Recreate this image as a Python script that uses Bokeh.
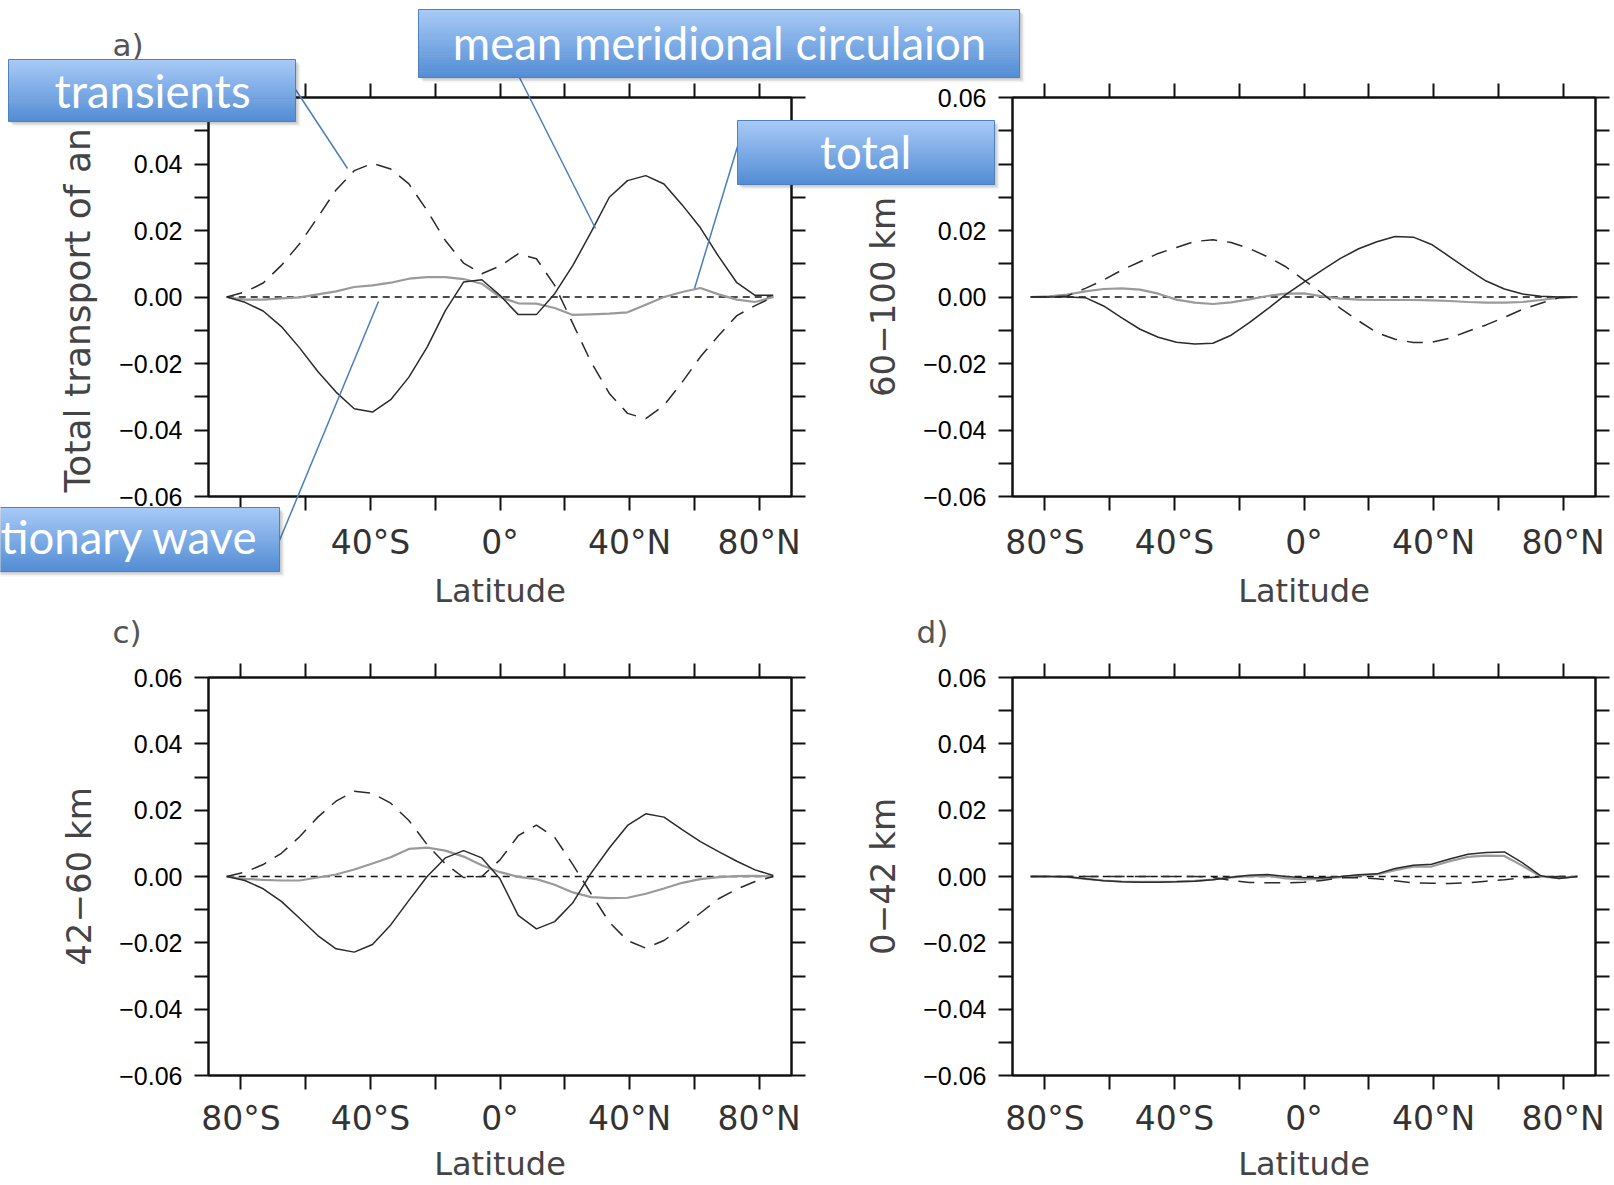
import math
from bokeh.plotting import figure
from bokeh.models import Range1d, LinearAxis, FixedTicker, CustomJSTickFormatter
from bokeh.core.properties import value
from bokeh.embed import file_html
from bokeh.resources import INLINE

# ---------------- data ----------------
LAT = [-84.375, -78.75, -73.125, -67.5, -61.875, -56.25, -50.625, -45.0, -39.375, -33.75,
       -28.125, -22.5, -16.875, -11.25, -5.625, 0.0, 5.625, 11.25, 16.875, 22.5,
       28.125, 33.75, 39.375, 45.0, 50.625, 56.25, 61.875, 67.5, 73.125, 78.75, 84.375]

# a) total column
A_TRANS = [0.0, 0.0015, 0.0042, 0.0095, 0.016, 0.024, 0.0322, 0.038, 0.0402, 0.0385,
           0.034, 0.026, 0.017, 0.0102, 0.007, 0.0093, 0.013, 0.0115, 0.0035, -0.008,
           -0.0196, -0.029, -0.035, -0.0366, -0.0326, -0.0256, -0.018, -0.0116, -0.0056, -0.0026, 0.0]
A_MMC = [0.0, -0.0016, -0.0042, -0.0089, -0.0153, -0.0224, -0.0286, -0.0336, -0.0346, -0.0309,
         -0.0241, -0.0151, -0.0041, 0.0045, 0.0052, 0.0005, -0.0053, -0.0053, 0.001, 0.0095,
         0.0195, 0.030, 0.035, 0.0365, 0.034, 0.0277, 0.0208, 0.0122, 0.0043, 0.0005, 0.0005]
A_TOTAL = [0.0, -0.0008, -0.0008, -0.0004, -0.0001, 0.0008, 0.0017, 0.003, 0.0035, 0.0043,
           0.0055, 0.006, 0.006, 0.0054, 0.004, 0.0, -0.0019, -0.002, -0.0033, -0.0054,
           -0.0052, -0.005, -0.0046, -0.0023, 0.0, 0.0015, 0.0027, 0.0008, -0.0008, -0.0015, 0.0]
A_STAT = [0.0, 0.0, 0.0, 0.0, 0.0, 0.0, 0.0, 0.0, 0.0, 0.0, 0.0, 0.0, 0.0, 0.0, 0.0, 0.0,
          0.0, 0.0, 0.0, 0.0, 0.0, 0.0, 0.0, 0.0, 0.0, 0.0, 0.0, 0.0, 0.0, 0.0, 0.0]

# b) 60-100 km
B_TRANS = [0.0, 0.0, 0.0003, 0.0026, 0.0051, 0.0081, 0.0106, 0.0131, 0.0149, 0.0167,
           0.0172, 0.0164, 0.0146, 0.0121, 0.0091, 0.0051, 0.0011, -0.0034, -0.0072, -0.0107,
           -0.0127, -0.0137, -0.0136, -0.0124, -0.0103, -0.0084, -0.0061, -0.0037, -0.0019, -0.0002, 0.0]
B_MMC = [0.0, 0.0, 0.0, -0.0002, -0.0027, -0.0063, -0.0097, -0.0121, -0.0136, -0.0141,
         -0.0139, -0.0115, -0.0077, -0.0036, 0.0007, 0.0045, 0.0081, 0.0116, 0.0145, 0.0166,
         0.0182, 0.018, 0.0158, 0.0121, 0.0083, 0.0048, 0.0024, 0.0009, 0.0002, 0.0, 0.0]
B_TOTAL = [0.0, 0.0002, 0.0007, 0.0017, 0.0024, 0.0026, 0.0022, 0.001, -0.0008, -0.0017,
           -0.0021, -0.0016, -0.0007, 0.0003, 0.001, 0.0011, 0.0002, -0.0005, -0.0008, -0.0009,
           -0.0009, -0.0009, -0.001, -0.0012, -0.0015, -0.0017, -0.0017, -0.0015, -0.0009, -0.0002, 0.0]
B_STAT = [0.0, 0.0, 0.0, 0.0, 0.0, 0.0, 0.0, 0.0, 0.0, 0.0, 0.0, 0.0, 0.0, 0.0, 0.0, 0.0,
          0.0, 0.0, 0.0, 0.0, 0.0, 0.0, 0.0, 0.0, 0.0, 0.0, 0.0, 0.0, 0.0, 0.0, 0.0]

# c) 42-60 km
C_TRANS = [0.0, 0.0013, 0.0036, 0.007, 0.012, 0.0179, 0.0227, 0.0257, 0.0251, 0.0221,
           0.0169, 0.0096, 0.0038, -0.0003, 0.0, 0.005, 0.0123, 0.0155, 0.0118, 0.0036,
           -0.0052, -0.0138, -0.0193, -0.0216, -0.0193, -0.0153, -0.011, -0.0067, -0.0038, -0.0015, 0.0]
C_MMC = [0.0, -0.0012, -0.0037, -0.0075, -0.0126, -0.0178, -0.0218, -0.0228, -0.0205, -0.0146,
         -0.0072, 0.0, 0.0056, 0.0078, 0.0056, -0.0007, -0.0117, -0.0158, -0.0136, -0.0079,
         0.001, 0.0086, 0.0154, 0.0189, 0.0179, 0.0141, 0.0105, 0.0075, 0.0046, 0.002, 0.0003]
C_TOTAL = [0.0, -0.0007, -0.001, -0.0012, -0.0012, -0.0003, 0.0006, 0.0021, 0.0039, 0.0058,
           0.0083, 0.0087, 0.0078, 0.006, 0.0034, 0.0013, -0.0001, -0.0008, -0.0025, -0.0048,
           -0.0062, -0.0065, -0.0064, -0.0052, -0.0036, -0.0019, -0.0008, -0.0002, 0.0001, 0.0002, 0.0]
C_STAT = [0.0, 0.0, 0.0, 0.0, 0.0, 0.0, 0.0, 0.0, 0.0, 0.0, 0.0, 0.0, 0.0, 0.0, 0.0, 0.0,
          0.0, 0.0, 0.0, 0.0, 0.0, 0.0, 0.0, 0.0, 0.0, 0.0, 0.0, 0.0, 0.0, 0.0, 0.0]

# d) 0-42 km
D_TRANS = [0.0, 0.0, 0.0, 0.0, 0.0, 0.0, 0.0, 0.0, 0.0, 0.0,
           -0.0002, -0.0012, -0.0018, -0.0019, -0.0019, -0.0017, -0.0012, -0.0004, -0.0004, -0.0007,
           -0.0013, -0.0019, -0.002, -0.0021, -0.0019, -0.0014, -0.001, -0.0004, -0.0001, 0.0, 0.0]
D_MMC = [0.0, 0.0, -0.0001, -0.0007, -0.0013, -0.0016, -0.0017, -0.0017, -0.0016, -0.0014,
         -0.001, -0.0002, 0.0004, 0.0006, 0.0, -0.0004, -0.0004, 0.0, 0.0005, 0.0008,
         0.0024, 0.0034, 0.0037, 0.0053, 0.0067, 0.0072, 0.0074, 0.0041, 0.0002, -0.0006, 0.0]
D_TOTAL = [0.0, 0.0, -0.0001, -0.0007, -0.0012, -0.0015, -0.0016, -0.0016, -0.0015, -0.0013,
           -0.0009, -0.0003, 0.0001, 0.0002, -0.0006, -0.0009, -0.0007, -0.0002, 0.0003, 0.0006,
           0.0019, 0.003, 0.003, 0.0046, 0.0059, 0.0063, 0.0062, 0.0032, 0.0, -0.0005, 0.0]
D_STAT = [0.0, 0.0, 0.0, 0.0, 0.0, 0.0, 0.0, 0.0, 0.0, 0.0, 0.0, 0.0, 0.0, 0.0, 0.0, 0.0,
          0.0, 0.0, 0.0, 0.0, 0.0, 0.0, 0.0, 0.0, 0.0, 0.0, 0.0, 0.0, 0.0, 0.0, 0.0]

X_MAJOR = [-80, -40, 0, 40, 80]
X_MINOR = [-60, -20, 20, 60]
Y_MAJOR = [-0.06, -0.04, -0.02, 0.0, 0.02, 0.04, 0.06]
Y_MINOR = [-0.05, -0.03, -0.01, 0.01, 0.03, 0.05]

PANEL_LETTERS = ["a)", "c)", "d)"]
Y_TITLES = ["Total transport of an", "60\u2212100 km", "42\u221260 km", "0\u221242 km"]
X_TITLE = "Latitude"
CALLOUTS = ["transients", "mean meridional circulaion", "total", "tionary wave"]

# ---------------- layout / style ----------------
INK = "#111111"
TICK_FONT_X = "DejaVu Sans"
TICK_FONT_Y = "Liberation Sans"

PANELS = [
    dict(trans=A_TRANS, mmc=A_MMC, total=A_TOTAL, stat=A_STAT, ytitle=None,
         left=0, top=0, w=850, h=620, bl=208, br=59, bt=97, bb=124, xs=12, xls=7),
    dict(trans=B_TRANS, mmc=B_MMC, total=B_TOTAL, stat=B_STAT, ytitle=Y_TITLES[1],
         left=850, top=0, w=764, h=620, bl=162, br=19, bt=97, bb=124, xs=12, xls=7),
    dict(trans=C_TRANS, mmc=C_MMC, total=C_TOTAL, stat=C_STAT, ytitle=Y_TITLES[2],
         left=0, top=620, w=850, h=565, bl=208, br=59, bt=57, bb=110, xs=9, xls=4),
    dict(trans=D_TRANS, mmc=D_MMC, total=D_TOTAL, stat=D_STAT, ytitle=Y_TITLES[3],
         left=850, top=620, w=764, h=565, bl=162, br=19, bt=57, bb=110, xs=9, xls=4),
]

X_FMT = ("if (Math.abs(tick) < 1e-9) { return '0\u00b0'; } "
         "return Math.abs(tick).toFixed(0) + '\u00b0' + (tick < 0 ? 'S' : 'N');")
Y_FMT = "return (tick < -1e-9 ? '\u2212' : '') + Math.abs(tick).toFixed(2);"
BLANK_FMT = "return '';"


def style_ticks(ax):
    ax.major_tick_in = 0
    ax.major_tick_out = 14
    ax.minor_tick_in = 0
    ax.minor_tick_out = 14
    ax.major_tick_line_width = 2
    ax.minor_tick_line_width = 2
    ax.major_tick_line_color = INK
    ax.minor_tick_line_color = INK
    ax.axis_line_width = 2
    ax.axis_line_color = INK


def build_panel(cfg):
    p = figure(width=cfg["w"], height=cfg["h"],
               x_range=Range1d(-90, 90), y_range=Range1d(-0.06, 0.06),
               output_backend="svg", toolbar_location=None,
               min_border_left=cfg["bl"], min_border_right=cfg["br"],
               min_border_top=cfg["bt"], min_border_bottom=cfg["bb"])
    p.grid.visible = False
    p.outline_line_color = INK
    p.outline_line_width = 2
    p.background_fill_color = "white"
    p.border_fill_color = "white"

    xa = p.xaxis[0]
    xa.ticker = FixedTicker(ticks=X_MAJOR, minor_ticks=X_MINOR)
    xa.formatter = CustomJSTickFormatter(code=X_FMT)
    style_ticks(xa)
    xa.major_label_text_font = TICK_FONT_X
    xa.major_label_text_font_size = "33px"
    xa.major_label_text_color = "#333333"
    xa.major_label_standoff = cfg["xs"]
    xa.axis_label = X_TITLE
    xa.axis_label_text_font = "DejaVu Sans"
    xa.axis_label_text_font_size = "32px"
    xa.axis_label_text_font_style = "normal"
    xa.axis_label_text_color = "#444444"
    xa.axis_label_standoff = cfg["xls"]

    ya = p.yaxis[0]
    ya.ticker = FixedTicker(ticks=Y_MAJOR, minor_ticks=Y_MINOR)
    ya.formatter = CustomJSTickFormatter(code=Y_FMT)
    style_ticks(ya)
    ya.major_label_text_font = TICK_FONT_Y
    ya.major_label_text_font_size = "25px"
    ya.major_label_text_color = "#000000"
    ya.major_label_standoff = 12
    if cfg["ytitle"]:
        ya.axis_label = cfg["ytitle"]
        ya.axis_label_text_font = "DejaVu Sans"
        ya.axis_label_text_font_size = "34px"
        ya.axis_label_text_font_style = "normal"
        ya.axis_label_text_color = "#444444"
        ya.axis_label_standoff = 17

    top_ax = LinearAxis(ticker=FixedTicker(ticks=X_MAJOR, minor_ticks=X_MINOR),
                        formatter=CustomJSTickFormatter(code=BLANK_FMT),
                        major_label_text_font_size="1px", major_label_standoff=0)
    style_ticks(top_ax)
    p.add_layout(top_ax, "above")
    right_ax = LinearAxis(ticker=FixedTicker(ticks=Y_MAJOR, minor_ticks=Y_MINOR),
                          formatter=CustomJSTickFormatter(code=BLANK_FMT),
                          major_label_text_font_size="1px", major_label_standoff=0)
    style_ticks(right_ax)
    p.add_layout(right_ax, "right")

    p.line(LAT, cfg["stat"], line_color=INK, line_width=1.3, line_dash="7 5")
    p.line(LAT, cfg["total"], line_color="#9a9a9a", line_width=2.2)
    p.line(LAT, cfg["trans"], line_color="#2a2a2a", line_width=1.5, line_dash="16 10")
    p.line(LAT, cfg["mmc"], line_color="#2a2a2a", line_width=1.5)

    p.styles = {"position": "absolute", "left": f"{cfg['left']}px", "top": f"{cfg['top']}px"}
    return p


panels = [build_panel(c) for c in PANELS]

# ---------------- overlay: panel letters, callouts ----------------
W, H = 1614, 1185
ov = figure(width=W, height=H, x_range=Range1d(0, W), y_range=Range1d(H, 0),
            output_backend="svg", toolbar_location=None, min_border=0,
            x_axis_location=None, y_axis_location=None)
ov.grid.visible = False
ov.outline_line_color = None
ov.background_fill_alpha = 0
ov.border_fill_alpha = 0
ov.styles = {"position": "absolute", "left": "0px", "top": "0px"}

# panel letters
ov.text(x=[112, 112, 916], y=[44, 631, 631], text=PANEL_LETTERS,
        text_font=value("DejaVu Sans"), text_font_size="31px", text_color="#555555",
        text_align="left", text_baseline="middle")
# y title of panel a (its top end runs under the "transients" box)
ov.text(x=[77], y=[492], text=[Y_TITLES[0]], angle=math.pi / 2,
        text_font=value("DejaVu Sans"), text_font_size="36px", text_color="#444444",
        text_align="left", text_baseline="middle")

BOXES = [
    dict(x0=8, x1=295, y0=59, y1=121, tx=152, ty=90, align="center"),
    dict(x0=418, x1=1019, y0=9, y1=77, tx=719, ty=42, align="center"),
    dict(x0=737, x1=994, y0=120, y1=184, tx=865, ty=151, align="center"),
    dict(x0=-10, x1=279, y0=507, y1=571, tx=0, ty=536, align="left"),
]
LEADERS = [(295, 89, 347, 168), (519, 77, 595, 228), (737, 146, 694, 288), (279, 540, 378, 301)]

ov.segment(x0=[l[0] for l in LEADERS], y0=[l[1] for l in LEADERS],
           x1=[l[2] for l in LEADERS], y1=[l[3] for l in LEADERS],
           line_color="#4a7ebb", line_width=1.5)

TOP_RGB = (168, 203, 247)
BOT_RGB = (82, 140, 212)
NSTRIP = 32
for b in BOXES:
    # soft shadow
    for off, alpha in [(5, 0.06), (3.5, 0.10), (2, 0.14)]:
        ov.quad(left=[b["x0"] + off], right=[b["x1"] + off], top=[b["y0"] + off], bottom=[b["y1"] + off],
                fill_color="#404040", fill_alpha=alpha, line_color=None)
    hgt = b["y1"] - b["y0"]
    tops, bots, cols = [], [], []
    for i in range(NSTRIP):
        f = (i + 0.5) / NSTRIP
        rgb = tuple(int(round(TOP_RGB[k] + (BOT_RGB[k] - TOP_RGB[k]) * f)) for k in range(3))
        tops.append(b["y0"] + hgt * i / NSTRIP)
        bots.append(b["y0"] + hgt * (i + 1) / NSTRIP + 0.6)
        cols.append("#%02x%02x%02x" % rgb)
    ov.quad(left=[b["x0"]] * NSTRIP, right=[b["x1"]] * NSTRIP, top=tops, bottom=bots,
            fill_color=cols, line_color=None)
    ov.quad(left=[b["x0"]], right=[b["x1"]], top=[b["y0"]], bottom=[b["y1"]],
            fill_color=None, line_color="#4f81bd", line_width=1)

for b, t in zip(BOXES, CALLOUTS):
    ov.text(x=[b["tx"]], y=[b["ty"]], text=[t], text_font=value("Lato"),
            text_font_size="45.5px", text_color="white",
            text_align=b["align"], text_baseline="middle")

open("out.html", "w").write(file_html(panels + [ov], INLINE))
